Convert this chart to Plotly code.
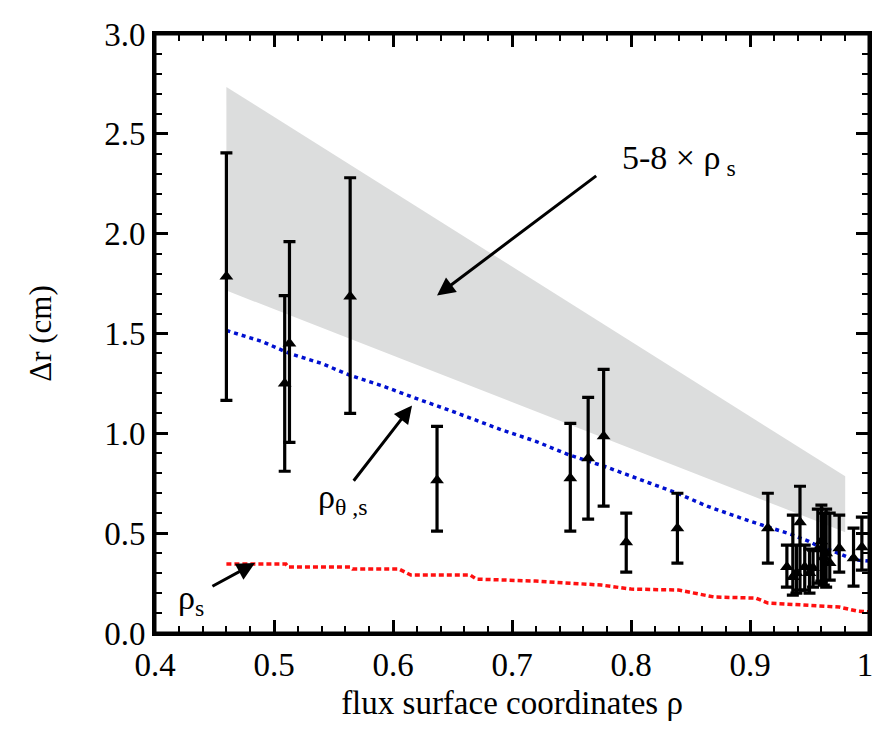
import plotly.graph_objects as go

# ---- data ----
band_x = [0.46, 0.98, 0.98, 0.46]
band_y = [2.735, 0.785, 0.505, 1.715]

blue_x = [0.46, 0.49, 0.513, 0.54, 0.564, 0.59, 0.617, 0.65, 0.69, 0.72, 0.749, 0.78, 0.816, 0.839, 0.864, 0.9, 0.934, 0.949, 0.959, 0.97, 0.982, 0.991, 1.0]
blue_y = [1.515, 1.46, 1.40, 1.35, 1.29, 1.24, 1.18, 1.11, 1.02, 0.96, 0.89, 0.83, 0.75, 0.70, 0.635, 0.56, 0.495, 0.46, 0.43, 0.41, 0.38, 0.365, 0.36]

red_x = [0.46, 0.51, 0.512, 0.564, 0.566, 0.605, 0.615, 0.665, 0.67, 0.72, 0.775, 0.80, 0.84, 0.87, 0.905, 0.915, 0.93, 0.975, 0.99, 1.0]
red_y = [0.345, 0.345, 0.33, 0.33, 0.32, 0.32, 0.29, 0.29, 0.27, 0.26, 0.24, 0.22, 0.215, 0.18, 0.175, 0.15, 0.145, 0.13, 0.11, 0.105]

pt_x = [0.46, 0.509, 0.513, 0.564, 0.637, 0.749, 0.764, 0.777, 0.796, 0.839, 0.915,
        0.931, 0.936, 0.939, 0.942, 0.946, 0.950, 0.953, 0.957, 0.960, 0.962, 0.964, 0.967, 0.975, 0.987, 0.994]
pt_y = [1.785, 1.25, 1.45, 1.685, 0.765, 0.775, 0.875, 0.985, 0.455, 0.525, 0.525,
        0.33, 0.28, 0.30, 0.555, 0.33, 0.30, 0.325, 0.42, 0.46, 0.38, 0.40, 0.35, 0.425, 0.375, 0.43]
pt_top = [2.405, 1.69, 1.96, 2.28, 1.035, 1.05, 1.18, 1.32, 0.60, 0.70, 0.70,
          0.44, 0.59, 0.44, 0.735, 0.44, 0.42, 0.415, 0.62, 0.64, 0.60, 0.62, 0.60, 0.59, 0.525, 0.58]
pt_bot = [1.165, 0.81, 0.955, 1.10, 0.51, 0.51, 0.57, 0.635, 0.305, 0.35, 0.35,
          0.23, 0.19, 0.20, 0.215, 0.215, 0.20, 0.23, 0.25, 0.26, 0.24, 0.23, 0.265, 0.305, 0.235, 0.315]

x_ticks = [0.4, 0.5, 0.6, 0.7, 0.8, 0.9, 1.0]
x_ticklabels = ["0.4", "0.5", "0.6", "0.7", "0.8", "0.9", "1\u00a0"]
y_ticks = [0.0, 0.5, 1.0, 1.5, 2.0, 2.5, 3.0]
y_ticklabels = ["0.0", "0.5", "1.0", "1.5", "2.0", "2.5", "3.0"]

FONT = "Times New Roman, Liberation Serif, Tinos, Times, serif"

fig = go.Figure()
fig.add_trace(go.Scatter(x=band_x, y=band_y, fill="toself", mode="lines",
                         line=dict(width=0), fillcolor="rgb(220,221,221)",
                         hoverinfo="skip", showlegend=False))
fig.add_trace(go.Scatter(x=blue_x, y=blue_y, mode="lines",
                         line=dict(color="#0010d0", width=3.5, dash="4px,4px"), showlegend=False))
fig.add_trace(go.Scatter(x=red_x, y=red_y, mode="lines",
                         line=dict(color="#ff1010", width=3.5, dash="5px,3px"), showlegend=False))
fig.add_trace(go.Scatter(
    x=pt_x, y=pt_y, mode="markers",
    marker=dict(symbol="triangle-up", size=12, color="black"),
    error_y=dict(type="data", symmetric=False,
                 array=[t - y for t, y in zip(pt_top, pt_y)],
                 arrayminus=[y - b for y, b in zip(pt_y, pt_bot)],
                 color="black", thickness=3.2, width=6),
    showlegend=False))

ann_font = dict(family=FONT, size=34, color="black")
fig.add_annotation(x=0.637, y=1.69, ax=0.772, ay=2.295, xref="x", yref="y", axref="x", ayref="y",
                   text="", showarrow=True, arrowhead=2, arrowsize=1.2, arrowwidth=3, arrowcolor="black")
fig.add_annotation(x=0.791, y=2.37, xref="x", yref="y", xanchor="left", yanchor="middle",
                   text="5-8 \u00d7 \u03c1<sub> s</sub>", showarrow=False, font=ann_font)
fig.add_annotation(x=0.616, y=1.14, ax=0.566, ay=0.755, xref="x", yref="y", axref="x", ayref="y",
                   text="", showarrow=True, arrowhead=2, arrowsize=1.2, arrowwidth=3, arrowcolor="black")
fig.add_annotation(x=0.535, y=0.67, xref="x", yref="y", xanchor="left", yanchor="middle",
                   text="\u03c1<sub>\u03b8 ,s</sub>", showarrow=False, font=ann_font)
fig.add_annotation(x=0.484, y=0.35, ax=0.447, ay=0.23, xref="x", yref="y", axref="x", ayref="y",
                   text="", showarrow=True, arrowhead=2, arrowsize=1.2, arrowwidth=3, arrowcolor="black")
fig.add_annotation(x=0.418, y=0.165, xref="x", yref="y", xanchor="left", yanchor="middle",
                   text="\u03c1<sub>s</sub>", showarrow=False, font=ann_font)

# frame
fig.add_shape(type="rect", xref="paper", yref="paper", x0=0, y0=0, x1=1, y1=1,
              line=dict(color="black", width=3), layer="above")

axis_common = dict(showgrid=False, zeroline=False, showline=True, linecolor="black", linewidth=3,
                   mirror="allticks", ticks="inside", ticklen=13, tickwidth=3, tickcolor="black",
                   ticklabeloverflow="allow", automargin=False,
                   tickfont=dict(family=FONT, size=33, color="black"))
fig.update_xaxes(range=[0.4, 1.0], tickvals=x_ticks, ticktext=x_ticklabels,
                 minor=dict(dtick=0.02, ticks="inside", ticklen=7, tickwidth=2, tickcolor="black"),
                 title=dict(text="flux surface coordinates \u03c1", font=dict(family=FONT, size=33, color="black"), standoff=10),
                 **axis_common)
fig.update_yaxes(range=[0.0, 3.0], tickvals=y_ticks, ticktext=y_ticklabels,
                 minor=dict(dtick=0.1, ticks="inside", ticklen=7, tickwidth=2, tickcolor="black"),
                 title=dict(text="\u0394r (cm)", font=dict(family=FONT, size=31, color="black"), standoff=44),
                 **axis_common)
fig.update_layout(width=875, height=736, margin=dict(l=155, r=6, t=34, b=103),
                  font=dict(family=FONT, color="black"),
                  plot_bgcolor="white", paper_bgcolor="white")
fig.write_html("out.html", config={"displayModeBar": False},
               post_script="document.body.style.margin='0';document.body.style.overflow='hidden';")
